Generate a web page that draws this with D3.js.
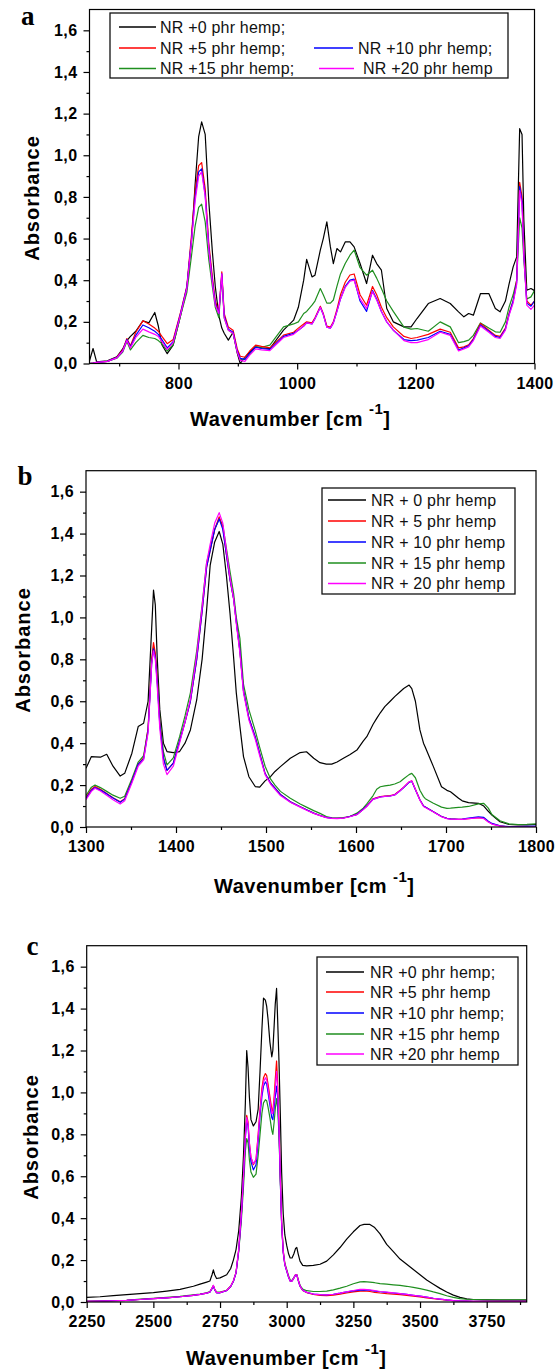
<!DOCTYPE html>
<html>
<head>
<meta charset="utf-8">
<script src="https://cdn.jsdelivr.net/npm/d3@7"></script>
<style>
  body { margin: 0; background: #fff; }
  svg { display: block; }
</style>
</head>
<body>
<svg width="558" height="1371"></svg>
<script>
// ---- panel a : 650 - 1400 cm-1 ----
const wnA = [650,656,662,680,696,706,713,719,728,740,
  750,760,766,772,781,791,803,814,822,828,
  834,839,845,851,857,862,868,873,877,884,
  892,899,904,912,920,930,940,954,977,994,
  1002,1011,1016,1025,1030,1039,1044,1050,1056,1061,
  1067,1073,1081,1089,1096,1106,1117,1127,1134,1142,
  1151,1162,1180,1192,1202,1221,1241,1258,1272,1281,
  1289,1297,1309,1323,1334,1342,1351,1357,1364,1370,
  1375,1379,1382,1387,1394,1400]
const hemp0A = [0.013,0.072,0.008,0.013,0.032,0.07,0.11,0.13,0.155,0.205,
  0.195,0.245,0.18,0.09,0.047,0.088,0.224,0.36,0.59,0.86,
  1.09,1.16,1.1,0.78,0.54,0.37,0.23,0.17,0.145,0.112,
  0.15,0.05,0.0,0.03,0.055,0.08,0.075,0.072,0.16,0.208,
  0.27,0.4,0.5,0.416,0.424,0.544,0.6,0.68,0.56,0.48,
  0.552,0.536,0.584,0.584,0.56,0.48,0.384,0.52,0.48,0.448,
  0.264,0.2,0.176,0.176,0.216,0.288,0.312,0.288,0.248,0.224,
  0.24,0.232,0.336,0.336,0.264,0.248,0.3,0.38,0.464,0.512,
  1.128,1.1,0.69,0.352,0.36,0.35]
const hemp5A = [0.0,0.002,0.005,0.01,0.03,0.065,0.12,0.085,0.15,0.205,
  0.19,0.17,0.155,0.13,0.095,0.115,0.24,0.37,0.62,0.83,
  0.95,0.965,0.84,0.58,0.42,0.3,0.25,0.44,0.24,0.175,
  0.16,0.07,0.035,0.03,0.06,0.088,0.082,0.075,0.136,0.15,
  0.17,0.19,0.2,0.195,0.22,0.275,0.24,0.18,0.175,0.2,
  0.26,0.33,0.39,0.425,0.43,0.33,0.28,0.37,0.33,0.27,
  0.22,0.176,0.13,0.12,0.125,0.14,0.165,0.15,0.075,0.08,
  0.09,0.12,0.192,0.16,0.135,0.13,0.17,0.24,0.3,0.4,
  0.87,0.8,0.55,0.3,0.28,0.3]
const hemp10A = [0.0,0.002,0.005,0.01,0.028,0.06,0.115,0.08,0.135,0.185,
  0.172,0.155,0.14,0.115,0.075,0.105,0.235,0.365,0.6,0.8,
  0.92,0.935,0.81,0.56,0.4,0.29,0.24,0.43,0.23,0.165,
  0.15,0.06,0.025,0.02,0.05,0.078,0.072,0.068,0.13,0.145,
  0.16,0.18,0.195,0.19,0.215,0.27,0.235,0.175,0.17,0.195,
  0.25,0.31,0.37,0.4,0.405,0.3,0.25,0.35,0.31,0.25,
  0.2,0.16,0.115,0.11,0.112,0.125,0.155,0.14,0.065,0.075,
  0.085,0.115,0.185,0.155,0.13,0.125,0.165,0.235,0.3,0.39,
  0.85,0.78,0.53,0.29,0.275,0.3]
const hemp15A = [0.0,0.002,0.005,0.01,0.025,0.055,0.105,0.065,0.1,0.135,
  0.125,0.12,0.11,0.095,0.06,0.09,0.225,0.34,0.52,0.66,
  0.75,0.765,0.68,0.5,0.37,0.27,0.22,0.42,0.22,0.16,
  0.145,0.055,0.02,0.02,0.045,0.08,0.078,0.088,0.176,0.19,
  0.2,0.24,0.25,0.28,0.3,0.36,0.33,0.29,0.29,0.305,
  0.37,0.43,0.48,0.52,0.545,0.46,0.424,0.448,0.41,0.36,
  0.3,0.25,0.175,0.165,0.168,0.155,0.2,0.176,0.1,0.105,
  0.112,0.135,0.195,0.17,0.152,0.15,0.2,0.27,0.33,0.4,
  0.7,0.65,0.5,0.31,0.32,0.35]
const hemp20A = [0.0,0.002,0.005,0.01,0.027,0.06,0.11,0.075,0.125,0.165,
  0.152,0.14,0.13,0.105,0.068,0.1,0.23,0.36,0.59,0.78,
  0.9,0.92,0.8,0.55,0.39,0.28,0.24,0.43,0.22,0.16,
  0.145,0.055,0.015,0.01,0.04,0.07,0.065,0.062,0.125,0.14,
  0.16,0.18,0.195,0.19,0.215,0.27,0.235,0.175,0.17,0.195,
  0.25,0.31,0.365,0.395,0.4,0.31,0.265,0.345,0.305,0.25,
  0.2,0.16,0.11,0.1,0.1,0.115,0.15,0.135,0.06,0.07,
  0.08,0.11,0.18,0.15,0.125,0.12,0.16,0.23,0.29,0.38,
  0.83,0.76,0.52,0.28,0.26,0.28]

// ---- panel b : 1300 - 1800 cm-1 ----
const wnB = [1300,1306,1310,1316,1323,1330,1338,1343,1351,1358,
  1364,1369,1373,1375,1377,1379,1382,1386,1390,1397,
  1404,1410,1416,1423,1429,1434,1438,1443,1448,1452,
  1456,1460,1464,1467,1471,1475,1481,1488,1493,1499,
  1505,1510,1516,1527,1538,1545,1553,1560,1567,1573,
  1579,1586,1593,1601,1608,1612,1619,1623,1627,1632,
  1638,1643,1649,1653,1659,1662,1666,1671,1675,1677,
  1686,1695,1701,1705,1714,1718,1725,1736,1742,1747,
  1751,1760,1770,1780,1790,1800]
const hemp0B = [0.28,0.336,0.335,0.333,0.347,0.29,0.243,0.256,0.352,0.479,
  0.495,0.6,0.95,1.13,1.06,0.82,0.56,0.4,0.36,0.355,
  0.36,0.4,0.463,0.606,0.8,1.035,1.25,1.36,1.41,1.35,
  1.2,1.02,0.81,0.64,0.48,0.336,0.24,0.193,0.19,0.22,
  0.24,0.265,0.288,0.328,0.355,0.359,0.328,0.307,0.3,0.3,
  0.31,0.328,0.345,0.367,0.41,0.431,0.49,0.518,0.545,0.574,
  0.6,0.622,0.645,0.661,0.677,0.66,0.6,0.463,0.4,0.38,
  0.288,0.192,0.175,0.168,0.137,0.125,0.116,0.113,0.1,0.075,
  0.057,0.025,0.012,0.01,0.01,0.012]
const hemp5B = [0.14,0.18,0.193,0.18,0.16,0.14,0.12,0.135,0.22,0.3,
  0.33,0.47,0.8,0.88,0.83,0.72,0.5,0.33,0.27,0.305,
  0.41,0.5,0.6,0.8,1.03,1.24,1.32,1.42,1.48,1.43,
  1.3,1.18,1.09,0.98,0.84,0.65,0.52,0.43,0.35,0.255,
  0.21,0.185,0.155,0.12,0.097,0.082,0.066,0.055,0.046,0.042,
  0.041,0.043,0.05,0.06,0.085,0.1,0.135,0.14,0.145,0.148,
  0.15,0.155,0.175,0.19,0.215,0.22,0.18,0.13,0.1,0.095,
  0.073,0.05,0.041,0.039,0.037,0.037,0.04,0.045,0.042,0.025,
  0.015,0.005,0.0,0.0,0.0,0.0]
const hemp10B = [0.135,0.175,0.188,0.176,0.158,0.138,0.118,0.133,0.218,0.3,
  0.325,0.46,0.78,0.85,0.81,0.7,0.49,0.33,0.27,0.305,
  0.41,0.5,0.6,0.8,1.03,1.24,1.32,1.42,1.47,1.42,
  1.3,1.18,1.09,0.98,0.84,0.65,0.52,0.43,0.35,0.255,
  0.21,0.185,0.155,0.12,0.097,0.082,0.066,0.055,0.046,0.042,
  0.041,0.043,0.05,0.06,0.085,0.1,0.133,0.138,0.143,0.146,
  0.148,0.153,0.173,0.188,0.213,0.218,0.178,0.13,0.1,0.095,
  0.073,0.05,0.041,0.039,0.037,0.038,0.042,0.048,0.046,0.028,
  0.017,0.006,0.002,0.002,0.003,0.004]
const hemp15B = [0.15,0.19,0.2,0.188,0.17,0.152,0.137,0.147,0.23,0.31,
  0.34,0.47,0.8,0.86,0.82,0.72,0.52,0.36,0.296,0.33,
  0.431,0.53,0.64,0.84,1.06,1.26,1.33,1.42,1.47,1.44,
  1.33,1.22,1.115,1.0,0.9,0.68,0.56,0.46,0.38,0.29,
  0.23,0.2,0.17,0.137,0.11,0.095,0.078,0.065,0.05,0.044,
  0.042,0.045,0.05,0.066,0.09,0.11,0.15,0.18,0.192,0.196,
  0.2,0.205,0.216,0.23,0.25,0.256,0.235,0.175,0.145,0.135,
  0.113,0.095,0.089,0.09,0.094,0.095,0.098,0.11,0.113,0.09,
  0.06,0.03,0.015,0.012,0.013,0.015]
const hemp20B = [0.13,0.17,0.185,0.172,0.152,0.13,0.11,0.125,0.21,0.29,
  0.32,0.45,0.78,0.84,0.8,0.68,0.47,0.3,0.25,0.29,
  0.4,0.5,0.61,0.82,1.05,1.26,1.35,1.45,1.5,1.45,
  1.32,1.19,1.09,0.97,0.83,0.64,0.51,0.42,0.34,0.25,
  0.205,0.18,0.15,0.118,0.095,0.08,0.065,0.054,0.045,0.041,
  0.04,0.042,0.049,0.059,0.083,0.098,0.132,0.138,0.143,0.146,
  0.148,0.153,0.173,0.19,0.215,0.22,0.18,0.128,0.098,0.093,
  0.072,0.049,0.04,0.038,0.036,0.036,0.04,0.044,0.04,0.024,
  0.014,0.004,0.0,0.0,0.0,0.0]

// ---- panel c : 2250 - 3900 cm-1 ----
const wnC = [2250,2300,2350,2400,2450,2500,2550,2600,2650,2675,
  2700,2712,2720,2725,2730,2737,2750,2775,2790,2800,
  2810,2820,2830,2838,2845,2850,2855,2860,2866,2875,
  2885,2893,2900,2907,2913,2920,2925,2930,2937,2944,
  2948,2953,2957,2962,2966,2971,2976,2981,2987,2993,
  3000,3007,3013,3020,3027,3033,3038,3043,3050,3060,
  3075,3100,3125,3150,3175,3200,3225,3250,3275,3290,
  3312,3330,3350,3375,3400,3425,3450,3475,3500,3525,
  3550,3575,3600,3625,3650,3675,3700,3750,3800,3850,
  3900]
const hemp0C = [0.022,0.025,0.03,0.035,0.04,0.045,0.052,0.06,0.075,0.085,
  0.095,0.1,0.13,0.153,0.13,0.112,0.115,0.13,0.16,0.2,
  0.25,0.34,0.5,0.7,0.95,1.2,1.12,0.98,0.87,0.84,
  0.86,0.92,1.1,1.3,1.45,1.44,1.41,1.35,1.24,1.17,
  1.2,1.32,1.42,1.496,1.35,1.15,0.9,0.62,0.42,0.32,
  0.27,0.23,0.21,0.21,0.23,0.255,0.26,0.23,0.195,0.175,
  0.172,0.175,0.18,0.195,0.225,0.26,0.3,0.335,0.365,0.37,
  0.37,0.355,0.325,0.275,0.24,0.205,0.18,0.155,0.13,0.105,
  0.085,0.065,0.048,0.033,0.022,0.015,0.012,0.01,0.009,0.009,
  0.009]
const hemp5C = [0.003,0.004,0.006,0.008,0.012,0.016,0.02,0.025,0.032,0.036,
  0.042,0.048,0.065,0.078,0.06,0.045,0.045,0.055,0.075,0.1,
  0.14,0.25,0.42,0.6,0.8,0.89,0.86,0.76,0.69,0.655,
  0.68,0.8,0.92,1.02,1.07,1.09,1.08,1.04,0.98,0.92,
  0.91,0.98,1.06,1.15,1.05,0.85,0.6,0.38,0.24,0.18,
  0.15,0.12,0.1,0.1,0.115,0.13,0.13,0.105,0.075,0.055,
  0.045,0.036,0.032,0.03,0.033,0.038,0.043,0.048,0.052,0.053,
  0.05,0.046,0.043,0.04,0.038,0.035,0.032,0.028,0.024,0.02,
  0.016,0.012,0.009,0.007,0.005,0.004,0.003,0.003,0.003,0.003,
  0.003]
const hemp10C = [0.003,0.004,0.006,0.008,0.012,0.016,0.02,0.025,0.032,0.036,
  0.042,0.047,0.063,0.075,0.058,0.044,0.044,0.054,0.074,0.098,
  0.138,0.245,0.41,0.59,0.78,0.87,0.84,0.74,0.67,0.63,
  0.655,0.77,0.89,0.98,1.03,1.05,1.04,1.0,0.94,0.88,
  0.87,0.93,0.98,1.03,0.98,0.82,0.58,0.37,0.235,0.177,
  0.148,0.118,0.1,0.1,0.115,0.128,0.128,0.104,0.075,0.056,
  0.046,0.038,0.035,0.034,0.037,0.042,0.048,0.053,0.057,0.058,
  0.056,0.052,0.049,0.046,0.043,0.04,0.036,0.032,0.028,0.023,
  0.018,0.014,0.01,0.007,0.005,0.004,0.003,0.003,0.003,0.003,
  0.003]
const hemp15C = [0.003,0.004,0.006,0.008,0.014,0.018,0.022,0.027,0.034,0.038,
  0.044,0.05,0.066,0.078,0.06,0.047,0.047,0.056,0.075,0.1,
  0.14,0.24,0.39,0.55,0.72,0.78,0.76,0.68,0.62,0.595,
  0.61,0.7,0.8,0.9,0.95,0.965,0.96,0.93,0.88,0.82,
  0.8,0.86,0.92,0.97,0.93,0.8,0.58,0.38,0.245,0.185,
  0.155,0.125,0.105,0.103,0.117,0.13,0.13,0.108,0.08,0.062,
  0.054,0.05,0.05,0.052,0.058,0.066,0.075,0.087,0.096,0.097,
  0.095,0.092,0.088,0.085,0.082,0.079,0.075,0.07,0.064,0.057,
  0.048,0.04,0.03,0.022,0.016,0.013,0.012,0.01,0.01,0.01,
  0.01]
const hemp20C = [0.003,0.004,0.006,0.008,0.012,0.016,0.02,0.025,0.032,0.036,
  0.042,0.048,0.066,0.08,0.06,0.045,0.045,0.055,0.075,0.1,
  0.14,0.25,0.42,0.6,0.79,0.88,0.85,0.76,0.69,0.66,
  0.68,0.79,0.91,1.0,1.05,1.07,1.06,1.02,0.96,0.9,
  0.9,0.96,1.02,1.1,1.02,0.84,0.6,0.38,0.24,0.18,
  0.15,0.12,0.1,0.1,0.115,0.13,0.13,0.105,0.076,0.056,
  0.046,0.038,0.035,0.034,0.037,0.042,0.049,0.055,0.06,0.06,
  0.058,0.054,0.05,0.047,0.044,0.04,0.036,0.032,0.028,0.023,
  0.018,0.014,0.01,0.007,0.005,0.004,0.003,0.003,0.003,0.003,
  0.003]

// ---- ticks and labels ----
const yMajor = [0, 0.2, 0.4, 0.6, 0.8, 1.0, 1.2, 1.4, 1.6]
const yMinor = [0.1, 0.3, 0.5, 0.7, 0.9, 1.1, 1.3, 1.5]
const xMajorA = [800, 1000, 1200, 1400]
const xMinorA = [700, 900, 1100, 1300]
const xMajorB = [1300, 1400, 1500, 1600, 1700, 1800]
const xMinorB = [1350, 1450, 1550, 1650, 1750]
const xMajorC = [2250, 2500, 2750, 3000, 3250, 3500, 3750]
const xMinorC = [2375, 2625, 2875, 3125, 3375, 3625, 3875]
const legendA = ['NR +0 phr hemp;', 'NR +5 phr hemp;', 'NR +10 phr hemp;', 'NR +15 phr hemp;', 'NR +20 phr hemp']
const legendB = ['NR + 0 phr hemp', 'NR + 5 phr hemp', 'NR + 10 phr hemp', 'NR + 15 phr hemp', 'NR + 20 phr hemp']
const legendC = ['NR +0 phr hemp;', 'NR +5 phr hemp', 'NR +10 phr hemp;', 'NR +15 phr hemp', 'NR +20 phr hemp']

const colors = ['#000000', '#ff0000', '#0000ff', '#1f8f1f', '#ff00ff']
const drawOrder = [0, 3, 1, 2, 4]
const FONT = '"Liberation Sans", Arial, sans-serif'

const svg = d3.select('svg')

const panels = [
  { letter: 'a', letterX: 21, letterY: 25,
    wn: wnA, series: [hemp0A, hemp5A, hemp10A, hemp15A, hemp20A],
    xDomain: [650, 1400], left: 89.5, right: 534.5, top: 9.5, bottom: 363.5,
    xMajor: xMajorA, xMinor: xMinorA,
    titleX: 190, titleY: 426, supDy: -12, yTitleX: 32, yTitleY: 198,
    legend: { box: [110, 13, 508, 78], labels: legendA,
      items: [[119, 156, 160, 27], [119, 156, 160, 48], [314, 353, 358, 48], [119, 156, 160, 68.5], [319, 354, 363, 68.5]] } },
  { letter: 'b', letterX: 17.5, letterY: 485,
    wn: wnB, series: [hemp0B, hemp5B, hemp10B, hemp15B, hemp20B],
    xDomain: [1300, 1800], left: 86, right: 536, top: 470.7, bottom: 827,
    xMajor: xMajorB, xMinor: xMinorB,
    titleX: 214, titleY: 893, supDy: -11, yTitleX: 23, yTitleY: 650,
    legend: { box: [322, 488, 515, 594], labels: legendB,
      items: [[328, 366, 371, 500], [328, 366, 371, 521], [328, 366, 371, 542], [328, 366, 371, 563], [328, 366, 371, 583.5]] } },
  { letter: 'c', letterX: 26.5, letterY: 955,
    wn: wnC, series: [hemp0C, hemp5C, hemp10C, hemp15C, hemp20C],
    xDomain: [2250, 3900], left: 86.7, right: 526.7, top: 945.7, bottom: 1302,
    xMajor: xMajorC, xMinor: xMinorC,
    titleX: 186, titleY: 1365, supDy: -11, yTitleX: 31, yTitleY: 1137,
    legend: { box: [317, 957, 518, 1065], labels: legendC,
      items: [[326, 364, 370, 972], [326, 364, 370, 992], [326, 364, 370, 1013], [326, 364, 370, 1034], [326, 364, 370, 1054]] } }
]

const fmt = d => d3.format('.1f')(d).replace('.', ',')

panels.forEach((p, pi) => {
  const x = d3.scaleLinear().domain(p.xDomain).range([p.left, p.right])
  const y = d3.scaleLinear().domain([0, 1.7]).range([p.bottom, p.top])
  const g = svg.append('g')

  g.append('clipPath').attr('id', 'clip' + pi)
    .append('rect')
    .attr('x', p.left).attr('y', p.top)
    .attr('width', p.right - p.left).attr('height', p.bottom - p.top)

  const line = d3.line()
    .x((d, i) => x(p.wn[i]))
    .y(d => y(d))

  const curves = g.append('g').attr('clip-path', `url(#clip${pi})`)
  drawOrder.forEach(k => {
    curves.append('path')
      .datum(p.series[k])
      .attr('d', line)
      .attr('fill', 'none')
      .attr('stroke', colors[k])
      .attr('stroke-width', 1.2)
      .attr('stroke-linejoin', 'round')
  })

  // axes
  const styleAxis = sel => {
    sel.select('.domain').remove()
    sel.selectAll('line').attr('stroke', '#000').attr('stroke-width', 1.2)
    sel.selectAll('text').attr('font-family', FONT).attr('font-weight', 'bold')
      .attr('font-size', 16).attr('letter-spacing', 0.4).attr('fill', '#000')
  }
  g.append('g').attr('transform', `translate(${p.left},0)`)
    .call(d3.axisLeft(y).tickValues(yMajor).tickFormat(fmt).tickSize(6).tickPadding(6))
    .call(styleAxis)
  g.append('g').attr('transform', `translate(${p.left},0)`)
    .call(d3.axisLeft(y).tickValues(yMinor).tickFormat('').tickSize(3))
    .call(styleAxis)
  g.append('g').attr('transform', `translate(0,${p.bottom})`)
    .call(d3.axisBottom(x).tickValues(p.xMajor).tickFormat(d3.format('d')).tickSize(6).tickPadding(8))
    .call(styleAxis)
  g.append('g').attr('transform', `translate(0,${p.bottom})`)
    .call(d3.axisBottom(x).tickValues(p.xMinor).tickFormat('').tickSize(3))
    .call(styleAxis)

  // frame
  g.append('rect')
    .attr('x', p.left).attr('y', p.top)
    .attr('width', p.right - p.left).attr('height', p.bottom - p.top)
    .attr('fill', 'none').attr('stroke', '#000').attr('stroke-width', 1.2)

  // axis titles
  const t = g.append('text')
    .attr('x', p.titleX).attr('y', p.titleY)
    .attr('font-family', FONT).attr('font-weight', 'bold')
    .attr('font-size', 20).attr('letter-spacing', 0.5)
  t.append('tspan').text('Wavenumber [cm')
  t.append('tspan').attr('dx', 6).attr('dy', p.supDy).attr('font-size', 15).text('-1')
  t.append('tspan').attr('dy', -p.supDy).text(']')

  g.append('text')
    .attr('transform', `translate(${p.yTitleX + 7},${p.yTitleY}) rotate(-90)`)
    .attr('text-anchor', 'middle')
    .attr('font-family', FONT).attr('font-weight', 'bold')
    .attr('font-size', 20).attr('letter-spacing', 1)
    .text('Absorbance')

  g.append('text')
    .attr('x', p.letterX).attr('y', p.letterY)
    .attr('font-family', '"Liberation Serif", "Times New Roman", serif')
    .attr('font-weight', 'bold').attr('font-size', 27)
    .text(p.letter)

  // legend
  const L = p.legend
  g.append('rect')
    .attr('x', L.box[0]).attr('y', L.box[1])
    .attr('width', L.box[2] - L.box[0]).attr('height', L.box[3] - L.box[1])
    .attr('fill', '#fff').attr('stroke', '#111').attr('stroke-width', 1.3)
  L.items.forEach((it, k) => {
    g.append('line')
      .attr('x1', it[0]).attr('x2', it[1]).attr('y1', it[3]).attr('y2', it[3])
      .attr('stroke', colors[k]).attr('stroke-width', 1.4)
    g.append('text')
      .attr('x', it[2]).attr('y', it[3] + 5.8)
      .attr('font-family', FONT).attr('font-size', 16)
      .attr('letter-spacing', 0.2).attr('fill', '#111')
      .text(L.labels[k])
  })
})
</script>
</body>
</html>
